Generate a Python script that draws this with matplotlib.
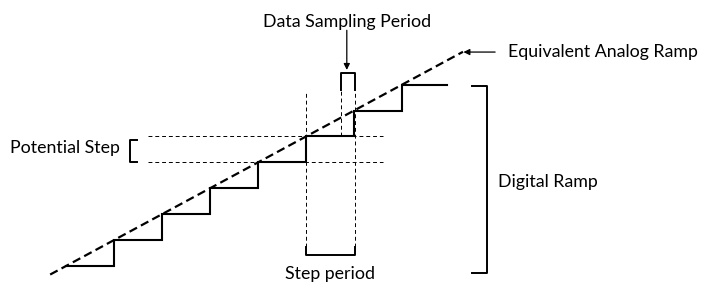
import matplotlib
matplotlib.use("Agg")
import matplotlib.pyplot as plt

# Diagram data: time in step periods, level in LSB steps
step_starts = [0, 1, 2, 3, 4, 5, 6, 7]
step_levels = [0, 1, 2, 3, 4, 5, 6, 7]
last_step_end = 7.94

ramp_t = [-0.33, 8.27]          # equivalent analog ramp (level = t)
potential_levels = [4, 5]       # dashed "potential step" band
potential_span = [1.71, 6.6]
step_period = [5.0, 6.02]       # step period bracket
sample_window = [5.73, 6.02]    # data sampling period bracket

plt.rcParams["font.family"] = ["Lato", "DejaVu Sans"]
fig = plt.figure(figsize=(7.02, 2.84), dpi=100)
ax = fig.add_axes([0, 0, 1, 1])
ax.set_xlim(-1.375, 13.25)
ax.set_ylim(-0.695, 10.27)
ax.axis("off")

# staircase
xs, ys = [], []
for i, (t, lv) in enumerate(zip(step_starts, step_levels)):
    end = step_starts[i + 1] if i + 1 < len(step_starts) else last_step_end
    xs += [t, end]
    ys += [lv, lv]
ax.plot(xs, ys, color="black", lw=1.5, solid_joinstyle="miter")

# analog ramp
ax.plot(ramp_t, ramp_t, color="black", lw=1.6, ls=(0, (3.8, 2)))

thin = dict(color="black", lw=0.7, ls=(0, (4, 3)))
# potential step band
for lv in potential_levels:
    ax.plot(potential_span, [lv, lv], **thin)
# vertical guides
ax.plot([step_period[0]] * 2, [0.73, 6.68], **thin)
ax.plot([step_period[1]] * 2, [0.73, 6.8], **thin)
ax.plot([sample_window[0]] * 2, [5.0, 6.8], **thin)

br = dict(color="black", lw=1.4)
# step period bracket
ax.plot([step_period[0], step_period[0], step_period[1], step_period[1]],
        [0.73, 0.42, 0.42, 0.73], **br)
# sampling bracket
ax.plot([sample_window[0], sample_window[0], sample_window[1], sample_window[1]],
        [6.8, 7.45, 7.45, 6.8], **br)
# potential step bracket
ax.plot([1.48, 1.33, 1.33, 1.48], [4.86, 4.86, 4.0, 4.0], **br)
# digital ramp bracket
ax.plot([8.46, 8.77, 8.77, 8.46], [6.95, 6.95, -0.27, -0.27], **br)

# arrows
ax.annotate("", xy=(5.85, 7.57), xytext=(5.85, 9.1),
            arrowprops=dict(arrowstyle="-|>", color="black", lw=0.9,
                            mutation_scale=9, shrinkA=0, shrinkB=0))
ax.annotate("", xy=(8.28, 8.26), xytext=(8.94, 8.26),
            arrowprops=dict(arrowstyle="-|>", color="black", lw=0.9,
                            mutation_scale=9, shrinkA=0, shrinkB=0))

fs = 12.8
ax.text(5.85, 9.42, "Data Sampling Period", ha="center", va="center", fontsize=fs)
ax.text(9.21, 8.26, "Equivalent Analog Ramp", ha="left", va="center", fontsize=fs)
ax.text(1.125, 4.56, "Potential Step", ha="right", va="center", fontsize=fs)
ax.text(9.0, 3.24, "Digital Ramp", ha="left", va="center", fontsize=fs)
ax.text(5.5, -0.31, "Step period", ha="center", va="center", fontsize=fs)

fig.savefig("out.png", dpi=100)
